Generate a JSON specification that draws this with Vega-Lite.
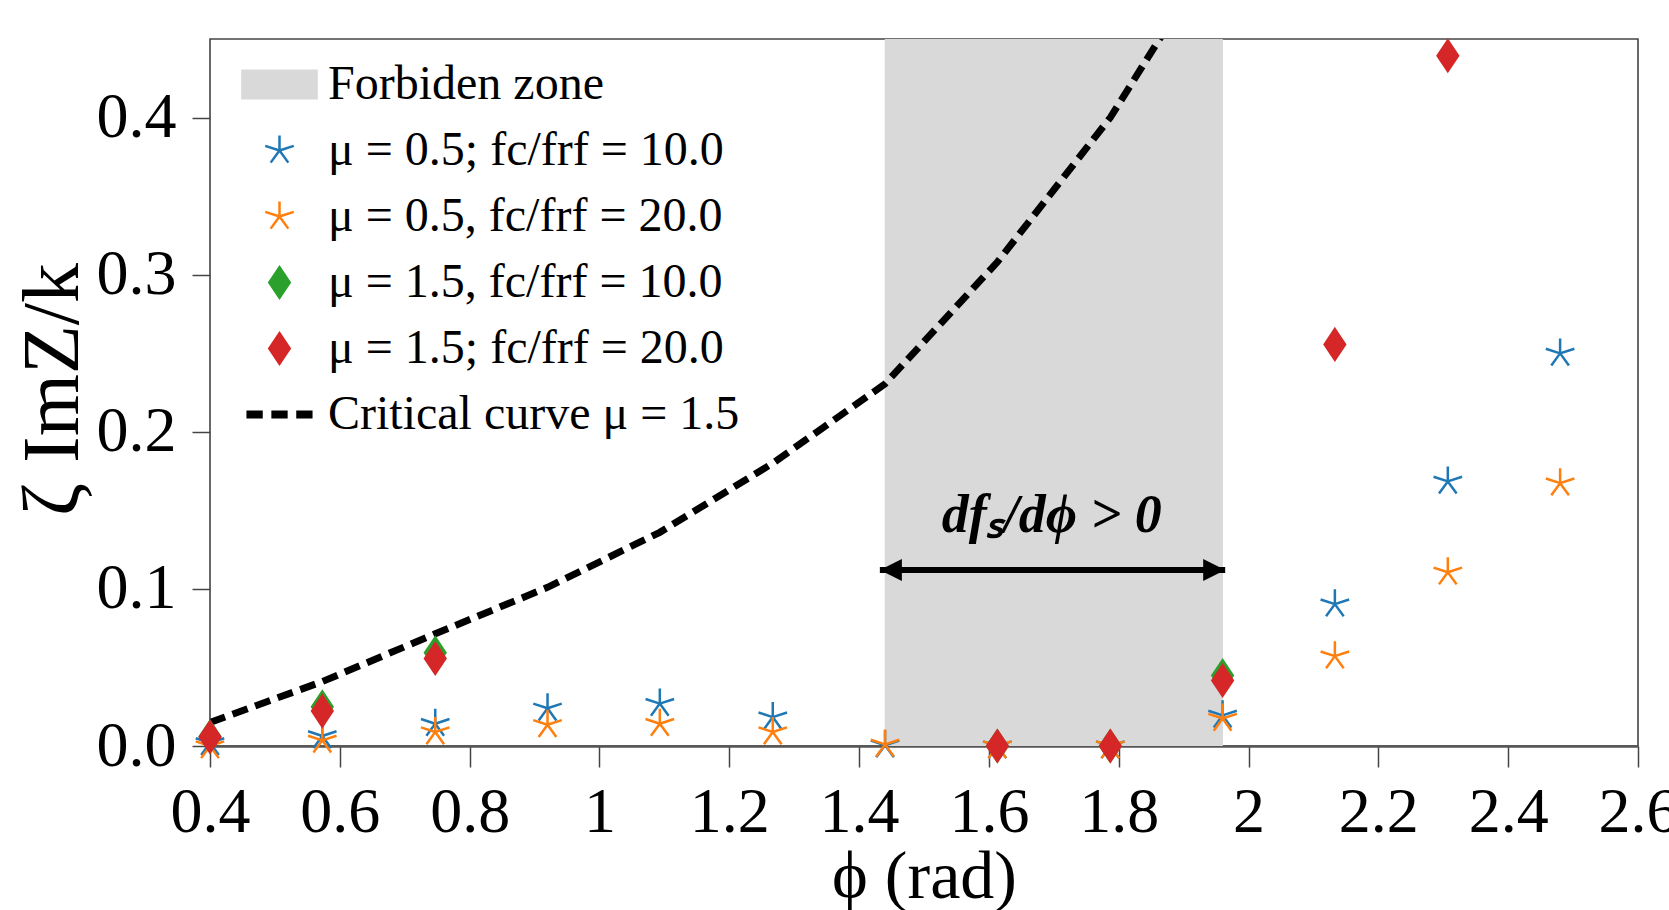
{
  "$schema": "https://vega.github.io/schema/vega-lite/v6.json",
  "width": 1428,
  "height": 707,
  "autosize": {"type": "none"},
  "padding": {"left": 210, "top": 39, "right": 31, "bottom": 164},
  "background": "white",
  "config": {
    "view": {"stroke": "#444", "strokeWidth": 1.6},
    "font": "Liberation Serif",
    "axis": {
      "grid": false,
      "labelFont": "Liberation Serif",
      "titleFont": "Liberation Serif",
      "labelColor": "black",
      "titleColor": "black",
      "tickColor": "#444",
      "tickWidth": 1.5,
      "domainColor": "#444",
      "titleFontWeight": "normal",
      "labelFlush": false,
      "labelOverlap": false
    }
  },
  "datasets": {
    "zone": [{"x": 1.4395, "x2": 1.9605}],
    "curve": [
      {"phi": 0.4, "v": 0.015},
      {"phi": 0.573, "v": 0.041},
      {"phi": 0.747, "v": 0.0714},
      {"phi": 0.92, "v": 0.101},
      {"phi": 1.093, "v": 0.136},
      {"phi": 1.267, "v": 0.18},
      {"phi": 1.44, "v": 0.2305},
      {"phi": 1.613, "v": 0.308},
      {"phi": 1.787, "v": 0.4},
      {"phi": 1.96, "v": 0.514}
    ],
    "points": [
      {"phi": 0.4, "v": 0.002, "series": "μ = 0.5; fc/frf = 10.0"},
      {"phi": 0.573, "v": 0.0064, "series": "μ = 0.5; fc/frf = 10.0"},
      {"phi": 0.747, "v": 0.0142, "series": "μ = 0.5; fc/frf = 10.0"},
      {"phi": 0.92, "v": 0.024, "series": "μ = 0.5; fc/frf = 10.0"},
      {"phi": 1.093, "v": 0.027, "series": "μ = 0.5; fc/frf = 10.0"},
      {"phi": 1.267, "v": 0.0184, "series": "μ = 0.5; fc/frf = 10.0"},
      {"phi": 1.44, "v": 0.0005, "series": "μ = 0.5; fc/frf = 10.0"},
      {"phi": 1.613, "v": 0.0, "series": "μ = 0.5; fc/frf = 10.0"},
      {"phi": 1.787, "v": 0.0, "series": "μ = 0.5; fc/frf = 10.0"},
      {"phi": 1.96, "v": 0.0195, "series": "μ = 0.5; fc/frf = 10.0"},
      {"phi": 2.133, "v": 0.0903, "series": "μ = 0.5; fc/frf = 10.0"},
      {"phi": 2.307, "v": 0.1684, "series": "μ = 0.5; fc/frf = 10.0"},
      {"phi": 2.48, "v": 0.2499, "series": "μ = 0.5; fc/frf = 10.0"},
      {"phi": 0.4, "v": 0.0, "series": "μ = 0.5, fc/frf = 20.0"},
      {"phi": 0.573, "v": 0.0036, "series": "μ = 0.5, fc/frf = 20.0"},
      {"phi": 0.747, "v": 0.0089, "series": "μ = 0.5, fc/frf = 20.0"},
      {"phi": 0.92, "v": 0.0135, "series": "μ = 0.5, fc/frf = 20.0"},
      {"phi": 1.093, "v": 0.0142, "series": "μ = 0.5, fc/frf = 20.0"},
      {"phi": 1.267, "v": 0.0089, "series": "μ = 0.5, fc/frf = 20.0"},
      {"phi": 1.44, "v": 0.001, "series": "μ = 0.5, fc/frf = 20.0"},
      {"phi": 1.613, "v": 0.0, "series": "μ = 0.5, fc/frf = 20.0"},
      {"phi": 1.787, "v": 0.0, "series": "μ = 0.5, fc/frf = 20.0"},
      {"phi": 1.96, "v": 0.0175, "series": "μ = 0.5, fc/frf = 20.0"},
      {"phi": 2.133, "v": 0.0572, "series": "μ = 0.5, fc/frf = 20.0"},
      {"phi": 2.307, "v": 0.1106, "series": "μ = 0.5, fc/frf = 20.0"},
      {"phi": 2.48, "v": 0.1673, "series": "μ = 0.5, fc/frf = 20.0"},
      {"phi": 0.4, "v": 0.006, "series": "μ = 1.5, fc/frf = 10.0"},
      {"phi": 0.573, "v": 0.025, "series": "μ = 1.5, fc/frf = 10.0"},
      {"phi": 0.747, "v": 0.0593, "series": "μ = 1.5, fc/frf = 10.0"},
      {"phi": 1.613, "v": 0.0, "series": "μ = 1.5, fc/frf = 10.0"},
      {"phi": 1.787, "v": 0.0, "series": "μ = 1.5, fc/frf = 10.0"},
      {"phi": 1.96, "v": 0.0449, "series": "μ = 1.5, fc/frf = 10.0"},
      {"phi": 0.4, "v": 0.0057, "series": "μ = 1.5; fc/frf = 20.0"},
      {"phi": 0.573, "v": 0.0222, "series": "μ = 1.5; fc/frf = 20.0"},
      {"phi": 0.747, "v": 0.0557, "series": "μ = 1.5; fc/frf = 20.0"},
      {"phi": 1.613, "v": 0.0, "series": "μ = 1.5; fc/frf = 20.0"},
      {"phi": 1.787, "v": 0.0, "series": "μ = 1.5; fc/frf = 20.0"},
      {"phi": 1.96, "v": 0.0417, "series": "μ = 1.5; fc/frf = 20.0"},
      {"phi": 2.133, "v": 0.2556, "series": "μ = 1.5; fc/frf = 20.0"},
      {"phi": 2.307, "v": 0.4393, "series": "μ = 1.5; fc/frf = 20.0"}
    ],
    "arrow": [{"x1": 1.432, "x2": 1.964, "y": 0.112}],
    "annot": [{"x": 1.697, "y": 0.1466, "label": "dfₛ/dϕ > 0"}]
  },
  "layer": [
    {
      "data": {"name": "zone"},
      "mark": {"type": "rect", "color": "#d9d9d9"},
      "encoding": {
        "x": {
          "field": "x",
          "type": "quantitative",
          "scale": {"domain": [0.4, 2.6], "nice": false, "zero": false},
          "axis": {
            "values": [0.4, 0.6, 0.8, 1, 1.2, 1.4, 1.6, 1.8, 2, 2.2, 2.4, 2.6],
            "format": "~g",
            "labelFontSize": 64,
            "tickSize": 21,
            "labelPadding": 13,
            "domainWidth": 2.5,
            "domainColor": "#555",
            "title": "ϕ (rad)",
            "titleFontSize": 68,
            "titleY": 97,
            "titleBaseline": "top"
          }
        },
        "x2": {"field": "x2"}
      }
    },
    {
      "data": {"name": "curve"},
      "mark": {"type": "line", "clip": true, "color": "black", "strokeWidth": 7, "strokeDash": [16, 8], "strokeCap": "butt"},
      "encoding": {
        "x": {"field": "phi", "type": "quantitative"},
        "y": {
          "field": "v",
          "type": "quantitative",
          "scale": {"domain": [0, 0.45], "nice": false, "zero": false},
          "axis": {
            "values": [0, 0.1, 0.2, 0.3, 0.4],
            "format": ".1f",
            "labelFontSize": 64,
            "tickSize": 18,
            "labelPadding": 16,
            "domain": false,
            "title": "ζ ImZ/k",
            "titleFontSize": 80,
            "titleX": -157,
            "titleY": 350,
            "titleBaseline": "middle"
          }
        }
      }
    },
    {
      "data": {"name": "points"},
      "mark": {"type": "point", "filled": true, "size": 3600, "strokeWidth": 2.5, "opacity": 1},
      "encoding": {
        "x": {"field": "phi", "type": "quantitative"},
        "y": {"field": "v", "type": "quantitative"},
        "fill": {
          "field": "series",
          "type": "nominal",
          "title": null,
          "scale": {
            "domain": ["Forbiden zone", "μ = 0.5; fc/frf = 10.0", "μ = 0.5, fc/frf = 20.0", "μ = 1.5, fc/frf = 10.0", "μ = 1.5; fc/frf = 20.0", "Critical curve μ = 1.5"],
            "range": ["#d9d9d9", "#1f77b4", "#ff7f0e", "#2ca02c", "#d62728", "black"]
          },
          "legend": {"orient": "none", "legendX": 38, "legendY": 14, "title": null, "symbolSize": 3600, "symbolStrokeWidth": 2.5, "labelFont": "Liberation Serif", "labelFontSize": 48, "labelColor": "black", "labelOffset": 17, "rowPadding": 10, "padding": 0, "labelLimit": 0}
        },
        "stroke": {
          "field": "series",
          "type": "nominal",
          "title": null,
          "scale": {
            "domain": ["Forbiden zone", "μ = 0.5; fc/frf = 10.0", "μ = 0.5, fc/frf = 20.0", "μ = 1.5, fc/frf = 10.0", "μ = 1.5; fc/frf = 20.0", "Critical curve μ = 1.5"],
            "range": ["#d9d9d9", "#1f77b4", "#ff7f0e", "#2ca02c", "#d62728", "black"]
          },
          "legend": {"orient": "none", "legendX": 38, "legendY": 14, "title": null, "symbolSize": 3600, "symbolStrokeWidth": 2.5, "labelFont": "Liberation Serif", "labelFontSize": 48, "labelColor": "black", "labelOffset": 17, "rowPadding": 10, "padding": 0, "labelLimit": 0}
        },
        "shape": {
          "field": "series",
          "type": "nominal",
          "title": null,
          "scale": {
            "domain": ["Forbiden zone", "μ = 0.5; fc/frf = 10.0", "μ = 0.5, fc/frf = 20.0", "μ = 1.5, fc/frf = 10.0", "μ = 1.5; fc/frf = 20.0", "Critical curve μ = 1.5"],
            "range": [
              "M-1.235,-0.46H1.235V0.46H-1.235Z",
              "M0,-0.5L0,0M0.4755,-0.1545L0,0M0.2939,0.4045L0,0M-0.2939,0.4045L0,0M-0.4755,-0.1545L0,0",
              "M0,-0.5L0,0M0.4755,-0.1545L0,0M0.2939,0.4045L0,0M-0.2939,0.4045L0,0M-0.4755,-0.1545L0,0",
              "M0,-0.51L0.34,0L0,0.51L-0.34,0Z",
              "M0,-0.51L0.34,0L0,0.51L-0.34,0Z",
              "M-1.06,-0.09H-0.6V0.09H-1.06ZM-0.23,-0.09H0.23V0.09H-0.23ZM0.6,-0.09H1.06V0.09H0.6Z"
            ]
          },
          "legend": {"orient": "none", "legendX": 38, "legendY": 14, "title": null, "symbolSize": 3600, "symbolStrokeWidth": 2.5, "labelFont": "Liberation Serif", "labelFontSize": 48, "labelColor": "black", "labelOffset": 17, "rowPadding": 10, "padding": 0, "labelLimit": 0}
        }
      }
    },
    {
      "data": {"name": "arrow"},
      "mark": {"type": "rule", "color": "black", "strokeWidth": 6},
      "encoding": {
        "x": {"field": "x1", "type": "quantitative"},
        "x2": {"field": "x2"},
        "y": {"field": "y", "type": "quantitative"}
      }
    },
    {
      "data": {"name": "arrow"},
      "mark": {"type": "point", "filled": true, "color": "black", "opacity": 1, "size": 1936, "shape": "M0,0L1,-0.5L1,0.5Z"},
      "encoding": {
        "x": {"field": "x1", "type": "quantitative"},
        "y": {"field": "y", "type": "quantitative"}
      }
    },
    {
      "data": {"name": "arrow"},
      "mark": {"type": "point", "filled": true, "color": "black", "opacity": 1, "size": 1936, "shape": "M0,0L-1,-0.5L-1,0.5Z"},
      "encoding": {
        "x": {"field": "x2", "type": "quantitative"},
        "y": {"field": "y", "type": "quantitative"}
      }
    },
    {
      "data": {"name": "annot"},
      "mark": {"type": "text", "font": "Liberation Serif", "fontStyle": "italic", "fontWeight": "bold", "fontSize": 54, "align": "center", "baseline": "middle", "color": "black"},
      "encoding": {
        "x": {"field": "x", "type": "quantitative"},
        "y": {"field": "y", "type": "quantitative"},
        "text": {"field": "label"}
      }
    }
  ]
}
